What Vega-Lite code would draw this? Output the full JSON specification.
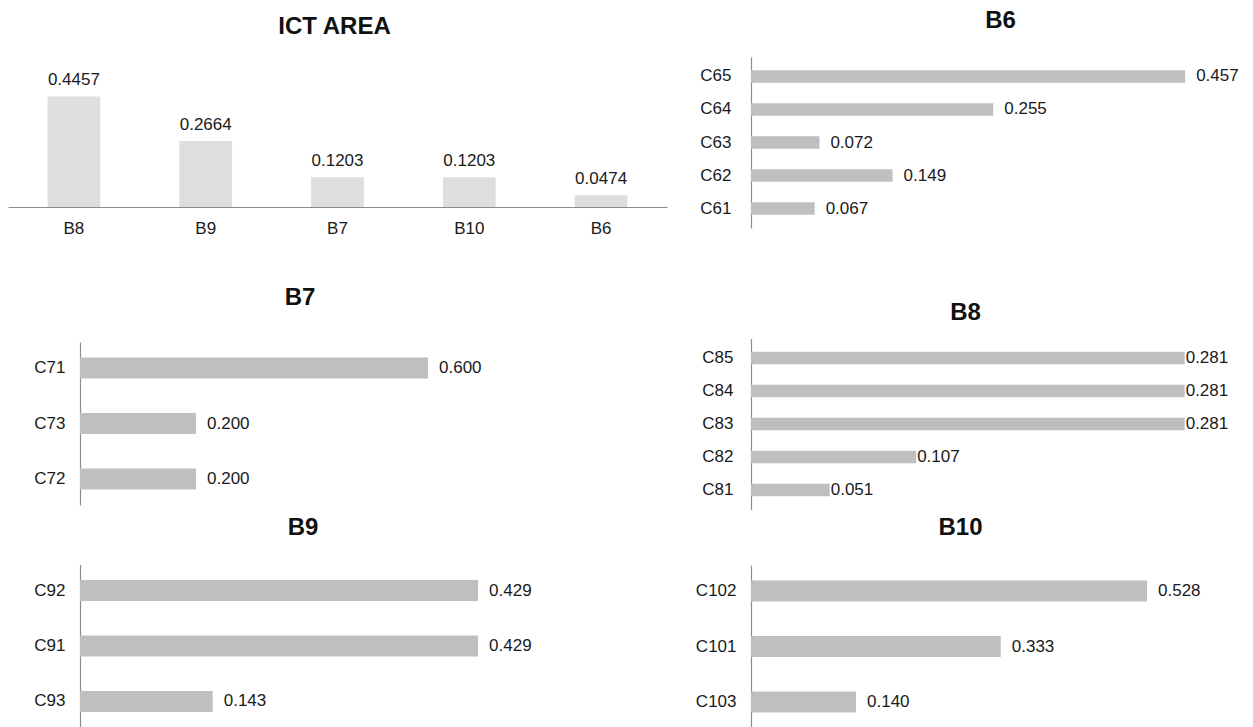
{
  "$schema": "https://vega.github.io/schema/vega-lite/v6.json",
  "background": "white",
  "padding": {"left": 8, "top": 8, "right": 0, "bottom": 0},
  "datasets": {
    "ict": [
      {"block": "B8", "value": 0.4457},
      {"block": "B9", "value": 0.2664},
      {"block": "B7", "value": 0.1203},
      {"block": "B10", "value": 0.1203},
      {"block": "B6", "value": 0.0474}
    ],
    "b6": [
      {"item": "C65", "value": 0.457},
      {"item": "C64", "value": 0.255},
      {"item": "C63", "value": 0.072},
      {"item": "C62", "value": 0.149},
      {"item": "C61", "value": 0.067}
    ],
    "b7": [
      {"item": "C71", "value": 0.6},
      {"item": "C73", "value": 0.2},
      {"item": "C72", "value": 0.2}
    ],
    "b8": [
      {"item": "C85", "value": 0.281},
      {"item": "C84", "value": 0.281},
      {"item": "C83", "value": 0.281},
      {"item": "C82", "value": 0.107},
      {"item": "C81", "value": 0.051}
    ],
    "b9": [
      {"item": "C92", "value": 0.429},
      {"item": "C91", "value": 0.429},
      {"item": "C93", "value": 0.143}
    ],
    "b10": [
      {"item": "C102", "value": 0.528},
      {"item": "C101", "value": 0.333},
      {"item": "C103", "value": 0.14}
    ]
  },
  "config": {
    "font": "Liberation Sans",
    "view": {"stroke": null},
    "axis": {
      "labelFont": "Liberation Sans",
      "labelFontSize": 17,
      "labelColor": "#1a1a1a",
      "domainColor": "#8c8c8c",
      "domainWidth": 1.2,
      "ticks": false,
      "grid": false,
      "title": null
    },
    "title": {"font": "Liberation Sans", "fontSize": 24, "fontWeight": "bold", "color": "#111111"},
    "text": {"font": "Liberation Sans", "fontSize": 17, "color": "#1a1a1a"},
    "bar": {"color": "#bfbfbf"}
  },
  "spacing": 24,
  "hconcat": [
    {
      "spacing": 49,
      "vconcat": [
        {
          "title": {"text": "ICT AREA", "offset": 18.5, "dx": -3},
          "data": {"name": "ict"},
          "width": 659,
          "height": 150,
          "encoding": {
            "x": {
              "field": "block", "type": "nominal", "sort": null,
              "scale": {"paddingInner": 0.6, "paddingOuter": 0.3},
              "axis": {"labelAngle": 0, "labelPadding": 13}
            },
            "y": {
              "field": "value", "type": "quantitative",
              "scale": {"domain": [0, 0.605], "nice": false},
              "axis": null
            }
          },
          "layer": [
            {"mark": {"type": "bar", "color": "#dedede"}},
            {
              "mark": {"type": "text", "baseline": "bottom", "dy": -7},
              "encoding": {"text": {"field": "value", "type": "quantitative", "format": ".4f"}}
            }
          ]
        },
        {
          "spacing": 10.5,
          "vconcat": [
            {
              "title": {"text": "B7", "offset": 32.5, "dx": 24},
              "data": {"name": "b7"},
              "width": 536,
              "height": 163,
              "encoding": {
                "y": {
                  "field": "item", "type": "nominal", "sort": null,
                  "scale": {"paddingInner": 0.62, "paddingOuter": 0.28},
                  "axis": {"labelPadding": 15, "offset": -72}
                },
                "x": {
                  "field": "value", "type": "quantitative",
                  "scale": {"domain": [-0.12414, 0.8], "nice": false, "zero": false},
                  "axis": null
                }
              },
              "layer": [
                {"mark": {"type": "bar"}, "encoding": {"x2": {"datum": 0}}},
                {
                  "mark": {"type": "text", "align": "left", "dx": 11},
                  "encoding": {"text": {"field": "value", "type": "quantitative", "format": ".3f"}}
                }
              ]
            },
            {
              "title": {"text": "B9", "offset": 25, "dx": 27},
              "data": {"name": "b9"},
              "width": 536,
              "height": 163,
              "encoding": {
                "y": {
                  "field": "item", "type": "nominal", "sort": null,
                  "scale": {"paddingInner": 0.62, "paddingOuter": 0.28},
                  "axis": {"labelPadding": 15, "offset": -72}
                },
                "x": {
                  "field": "value", "type": "quantitative",
                  "scale": {"domain": [-0.07759, 0.5], "nice": false, "zero": false},
                  "axis": null
                }
              },
              "layer": [
                {"mark": {"type": "bar"}, "encoding": {"x2": {"datum": 0}}},
                {
                  "mark": {"type": "text", "align": "left", "dx": 11},
                  "encoding": {"text": {"field": "value", "type": "quantitative", "format": ".3f"}}
                }
              ]
            }
          ]
        }
      ]
    },
    {
      "spacing": 72.5,
      "vconcat": [
        {
          "title": {"text": "B6", "offset": 24.5, "dx": 12},
          "data": {"name": "b6"},
          "width": 475,
          "height": 171,
          "encoding": {
            "y": {
              "field": "item", "type": "nominal", "sort": null,
              "scale": {"paddingInner": 0.62, "paddingOuter": 0.4},
              "axis": {"labelPadding": 20, "minExtent": 60, "maxExtent": 60}
            },
            "x": {
              "field": "value", "type": "quantitative",
              "scale": {"domain": [0, 0.5], "nice": false},
              "axis": null
            }
          },
          "layer": [
            {"mark": {"type": "bar"}},
            {
              "mark": {"type": "text", "align": "left", "dx": 11},
              "encoding": {"text": {"field": "value", "type": "quantitative", "format": ".3f"}}
            }
          ]
        },
        {
          "spacing": 6.5,
          "vconcat": [
            {
              "title": {"text": "B8", "offset": 13.5, "dx": -17},
              "data": {"name": "b8"},
              "width": 463,
              "height": 171,
              "encoding": {
                "y": {
                  "field": "item", "type": "nominal", "sort": null,
                  "scale": {"paddingInner": 0.62, "paddingOuter": 0.4},
                  "axis": {"labelPadding": 18, "minExtent": 60, "maxExtent": 60}
                },
                "x": {
                  "field": "value", "type": "quantitative",
                  "scale": {"domain": [0, 0.3], "nice": false},
                  "axis": null
                }
              },
              "layer": [
                {"mark": {"type": "bar"}},
                {
                  "mark": {"type": "text", "align": "left", "dx": 1},
                  "encoding": {"text": {"field": "value", "type": "quantitative", "format": ".3f"}}
                }
              ]
            },
            {
              "title": {"text": "B10", "offset": 25, "dx": -23},
              "data": {"name": "b10"},
              "width": 465,
              "height": 163,
              "encoding": {
                "y": {
                  "field": "item", "type": "nominal", "sort": null,
                  "scale": {"paddingInner": 0.62, "paddingOuter": 0.28},
                  "axis": {"labelPadding": 15, "minExtent": 60, "maxExtent": 60}
                },
                "x": {
                  "field": "value", "type": "quantitative",
                  "scale": {"domain": [0, 0.62], "nice": false},
                  "axis": null
                }
              },
              "layer": [
                {"mark": {"type": "bar"}},
                {
                  "mark": {"type": "text", "align": "left", "dx": 11},
                  "encoding": {"text": {"field": "value", "type": "quantitative", "format": ".3f"}}
                }
              ]
            }
          ]
        }
      ]
    }
  ]
}
